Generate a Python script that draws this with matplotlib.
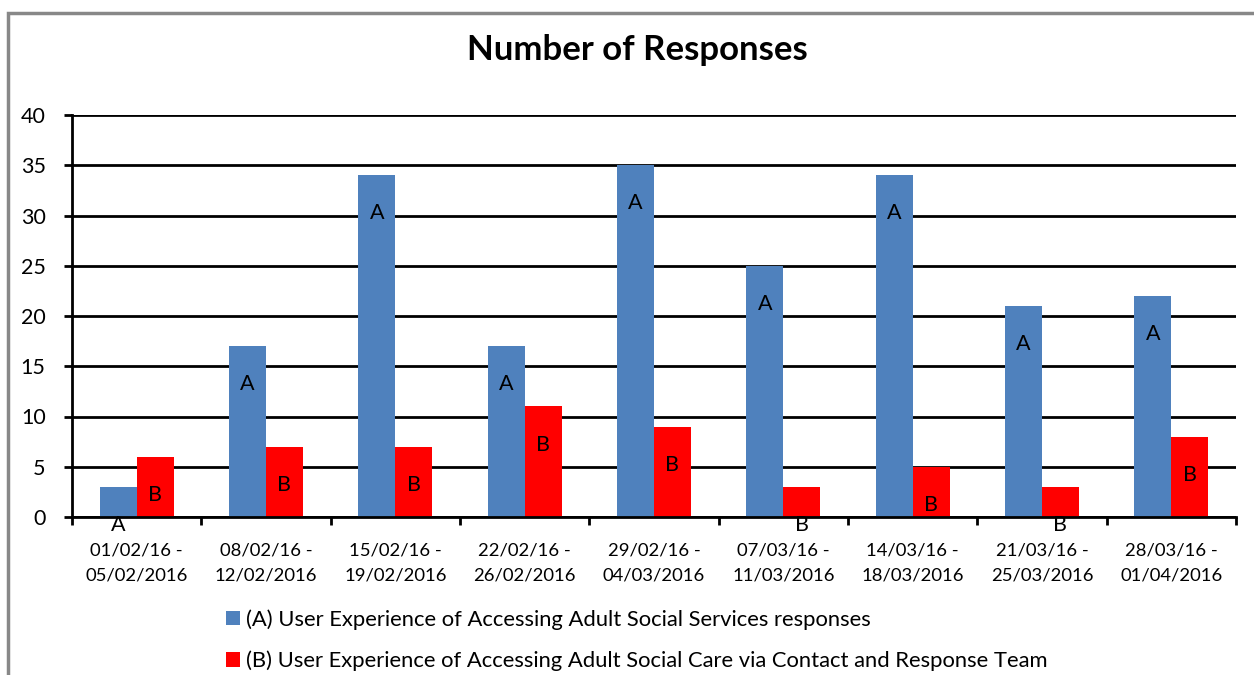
import matplotlib.pyplot as plt
from matplotlib.patches import Rectangle, Patch
import numpy as np

plt.rcParams['font.family'] = ['Lato', 'DejaVu Sans']

weeks = ['01/02/16 -\n05/02/2016', '08/02/16 -\n12/02/2016', '15/02/16 -\n19/02/2016',
         '22/02/16 -\n26/02/2016', '29/02/16 -\n04/03/2016', '07/03/16 -\n11/03/2016',
         '14/03/16 -\n18/03/2016', '21/03/16 -\n25/03/2016', '28/03/16 -\n01/04/2016']
adult_social_services = [3, 17, 34, 17, 35, 25, 34, 21, 22]
contact_response_team = [6, 7, 7, 11, 9, 3, 5, 3, 8]

label_a = '(A) User Experience of Accessing Adult Social Services responses'
label_b = '(B) User Experience of Accessing Adult Social Care via Contact and Response Team'

blue = '#4F81BD'
red = '#FF0000'

fig = plt.figure(figsize=(12.54, 6.75), dpi=100)
ax = fig.add_axes([72 / 1254, 1 - 517 / 675, (1236 - 72) / 1254, (517 - 115) / 675])

x = np.arange(len(weeks))
w = 0.286
ax.bar(x - w / 2, adult_social_services, w, color=blue, zorder=3)
ax.bar(x + w / 2, contact_response_team, w, color=red, zorder=3)

# data labels sit a fixed distance below the top of each bar
for xi, a, b in zip(x, adult_social_services, contact_response_team):
    ax.text(xi - w / 2, a - 3.8, 'A', ha='center', va='center', fontsize=15.5, zorder=4)
    ax.text(xi + w / 2, b - 3.8, 'B', ha='center', va='center', fontsize=15.5, zorder=4)

ax.set_xlim(-0.5, len(weeks) - 0.5)
ax.set_ylim(0, 40)
ax.set_yticks(range(0, 41, 5))
ax.yaxis.grid(True, color='black', linewidth=2, zorder=0)
ax.set_axisbelow(True)

ax.set_xticks(x)
ax.set_xticklabels(weeks, fontsize=13.3, linespacing=1.75)
ax.set_xticks(np.arange(-0.5, len(weeks)), minor=True)
ax.tick_params(axis='x', which='major', length=0, pad=18)
ax.tick_params(axis='x', which='minor', length=6, width=2, direction='out')
ax.tick_params(axis='y', length=6, width=2, direction='out', labelsize=15.5, pad=13)

for side in ['top', 'right']:
    ax.spines[side].set_visible(False)
for side in ['left', 'bottom']:
    ax.spines[side].set_linewidth(2)
    ax.spines[side].set_zorder(5)

fig.text(637 / 1254, 1 - 50 / 675, 'Number of Responses', ha='center', va='center',
         fontsize=25, fontweight='bold')

handles = [Patch(facecolor=blue, label=label_a), Patch(facecolor=red, label=label_b)]
fig.legend(handles=handles, loc='upper left', bbox_to_anchor=(226 / 1254, 1 - 609 / 675),
           frameon=False, fontsize=15.8, handlelength=0.65, handleheight=0.65,
           handletextpad=0.25, labelspacing=0.95, borderaxespad=0, borderpad=0)

# chart frame, clipped at the right and bottom edges
fig.patches.append(Rectangle((8 / 1254, -0.1), 1.2, 1.1 - 13 / 675, transform=fig.transFigure,
                             fill=False, edgecolor='#888888', linewidth=2.5))

fig.savefig('out.png', dpi=100)
